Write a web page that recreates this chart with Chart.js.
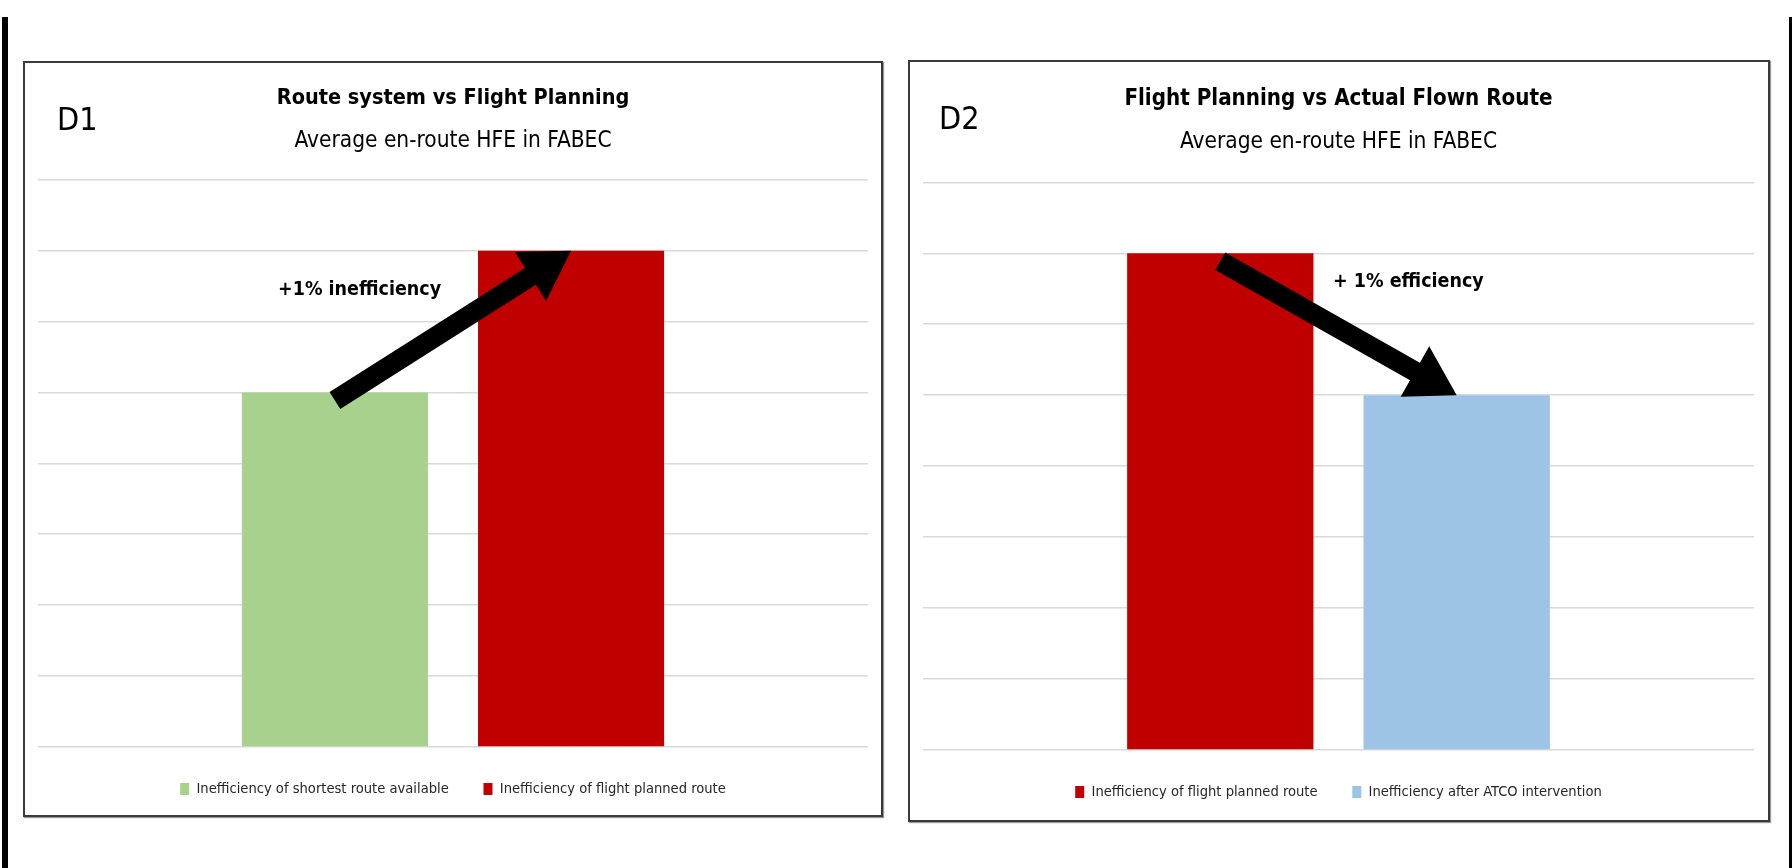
<!DOCTYPE html>
<html>
<head>
<meta charset="utf-8">
<script src="https://cdn.jsdelivr.net/npm/chart.js@4.4.0/dist/chart.umd.min.js"></script>
<style>
  body { margin:0; background:#fff; width:1792px; height:868px; position:relative; overflow:hidden; }
  .bar { position:absolute; background:#000; top:17px; bottom:0; }
  .box { position:absolute; border:2px solid #3a3a3a; box-shadow:1px 1px 1px #999; background:#fff; }
  .box canvas { display:block; }
</style>
</head>
<body>
<div class="bar" style="left:2px;width:6px"></div>
<div class="bar" style="left:1789px;width:3px"></div>
<div class="box" style="left:23px;top:61px;width:856px;height:752px"><canvas id="c1"></canvas></div>
<div class="box" style="left:908px;top:60px;width:858px;height:758px"><canvas id="c2"></canvas></div>
<script>
// data
const cats = [''];
const d1Series = ['Inefficiency of shortest route available', 'Inefficiency of flight planned route'];
const d1Values = [5, 7];
const d2Series = ['Inefficiency of flight planned route', 'Inefficiency after ATCO intervention'];
const d2Values = [7, 5];
const yMax = 8;

const GREEN = '#A9D18E', RED = '#C00000', BLUE = '#9DC3E6';
const FONT = "'Liberation Sans Narrow', 'DejaVu Sans Condensed', sans-serif";

Chart.defaults.font.family = FONT;
Chart.defaults.color = '#000';

function drawArrow(ctx, x0, y0, x1, y1) {
  var ang = Math.atan2(y1 - y0, x1 - x0);
  var len = Math.hypot(x1 - x0, y1 - y0);
  var hl = 48, hw = 29, sw = 10;
  ctx.save();
  ctx.translate(x0, y0);
  ctx.rotate(ang);
  ctx.beginPath();
  ctx.moveTo(0, -sw);
  ctx.lineTo(len - hl, -sw);
  ctx.lineTo(len - hl, -hw);
  ctx.lineTo(len, 0);
  ctx.lineTo(len - hl, hw);
  ctx.lineTo(len - hl, sw);
  ctx.lineTo(0, sw);
  ctx.closePath();
  ctx.fillStyle = '#000';
  ctx.fill();
  ctx.restore();
}

// arrow between the two bar tops + labels
const extras = {
  id: 'extras',
  afterDatasetsDraw(chart, args, opts) {
    const ctx = chart.ctx;
    const a = chart.getDatasetMeta(0).data[0];
    const b = chart.getDatasetMeta(1).data[0];
    drawArrow(ctx, a.x, a.y + 8, b.x, b.y);
    ctx.save();
    ctx.fillStyle = '#000';
    ctx.textBaseline = 'middle';
    ctx.textAlign = 'left';
    ctx.font = 'bold 19.5px ' + FONT;
    ctx.fillText(opts.note, opts.noteX, opts.noteY);
    ctx.font = '32px ' + FONT;
    ctx.fillText(opts.tag, opts.tagX, opts.tagY);
    ctx.restore();
  }
};

function makeChart(id, series, values, colors, cfg) {
  return new Chart(document.getElementById(id), {
    type: 'bar',
    data: {
      labels: cats,
      datasets: series.map((s, i) => ({
        label: s,
        data: [values[i]],
        backgroundColor: colors[i],
        categoryPercentage: 0.569,
        barPercentage: 0.788
      }))
    },
    options: {
      responsive: true,
      maintainAspectRatio: false,
      animation: false,
      layout: { padding: { left: 13, right: cfg.padR, top: 0, bottom: cfg.padB } },
      scales: {
        x: { display: false },
        y: {
          min: 0, max: yMax,
          ticks: { display: false, stepSize: 1 },
          border: { display: false },
          grid: { color: '#D9D9D9', lineWidth: 1.5, drawTicks: false }
        }
      },
      plugins: {
        title: {
          display: true, text: cfg.title,
          font: { size: cfg.tSize, weight: 'bold' },
          padding: { top: cfg.tTop, bottom: 0 }
        },
        subtitle: {
          display: true, text: 'Average en-route HFE in FABEC',
          font: { size: 22.5, weight: 'normal' }, color: '#000',
          padding: { top: cfg.sTop, bottom: cfg.sBot }
        },
        legend: {
          position: 'bottom',
          labels: { boxWidth: 9, boxHeight: 12, padding: cfg.legPad, color: '#262626', font: { size: 14.6 } }
        },
        tooltip: { enabled: false },
        extras: cfg.extras
      }
    },
    plugins: [extras]
  });
}

makeChart('c1', d1Series, d1Values, [GREEN, RED], {
  title: 'Route system vs Flight Planning', tSize: 21.5,
  padR: 13, padB: 8.75, tTop: 23, sTop: 16, sBot: 25, legPad: 34.75,
  extras: { note: '+1% inefficiency', noteX: 253, noteY: 227, tag: 'D1', tagX: 32, tagY: 59 }
});
makeChart('c2', d2Series, d2Values, [RED, BLUE], {
  title: 'Flight Planning vs Actual Flown Route', tSize: 22.2,
  padR: 14, padB: 10.75, tTop: 23.5, sTop: 16.5, sBot: 26.7, legPad: 34.75,
  extras: { note: '+ 1% efficiency', noteX: 423, noteY: 220, tag: 'D2', tagX: 29, tagY: 59 }
});
</script>
</body>
</html>
